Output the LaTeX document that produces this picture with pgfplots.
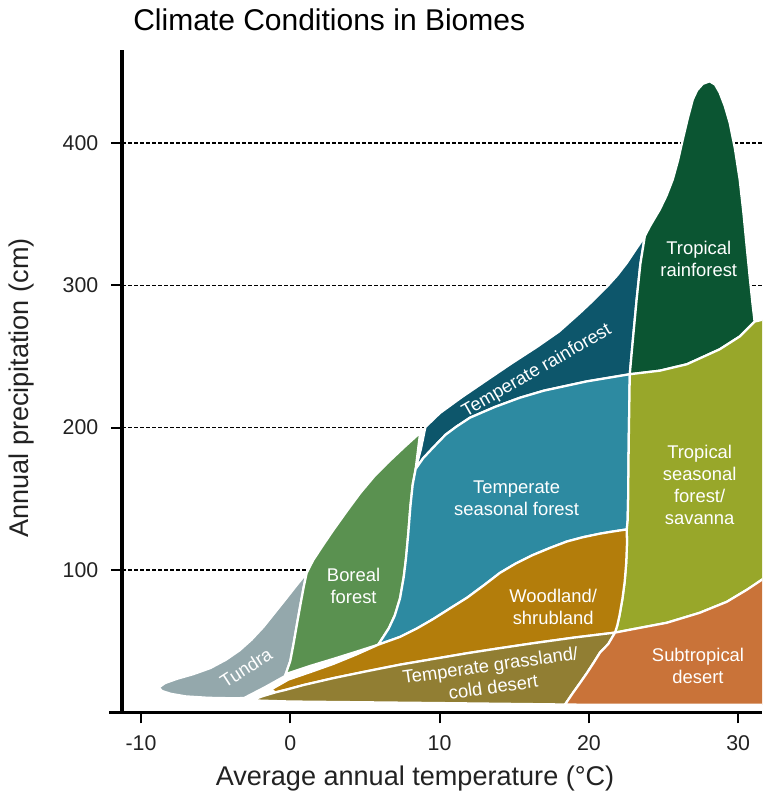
\documentclass[border=0pt]{standalone}
\usepackage{pgfplots}
\pgfplotsset{compat=1.18}
\usepackage{fontspec}
\setmainfont{Liberation Sans}
\usetikzlibrary{calc}

\definecolor{tundra}{HTML}{94A8AC}
\definecolor{boreal}{HTML}{5A9150}
\definecolor{temprain}{HTML}{0D566B}
\definecolor{tempseas}{HTML}{2D8AA1}
\definecolor{troprain}{HTML}{0B5532}
\definecolor{savanna}{HTML}{98A72A}
\definecolor{woodland}{HTML}{B37D0B}
\definecolor{grassland}{HTML}{917E33}
\definecolor{desert}{HTML}{C97339}
\definecolor{labelgray}{HTML}{222222}

\tikzset{
  region/.style={draw=white, line width=1.7pt, line join=round},
  biome/.style={font=\fontsize{13.8}{16.5}\selectfont, text=white, align=center},
}

\begin{document}
\begin{tikzpicture}
\begin{axis}[
  scale only axis, width=480pt, height=496.7pt,
  xmin=-11.27, xmax=31.6, ymin=0, ymax=465.3,
  axis x line=bottom, axis y line=left,
  axis line style={-, line width=2.6pt},
  xtick={-10,0,10,20,30}, xticklabels={-10,0,10,20,30},
  ytick={100,200,300,400}, yticklabels={100,200,300,400},
  tick align=outside, major tick length=8.25pt,
  tick style={line width=1.5pt, black},
  ymajorgrids, grid style={black, line width=1pt, dash pattern=on 2.8pt off 1.7pt},
  ticklabel style={font=\fontsize{16}{16}\selectfont, text=labelgray},
  xticklabel style={yshift=-6pt},
  yticklabel style={xshift=-6pt},
  clip mode=individual,
]
% Tundra
\addplot[region, fill=tundra] coordinates {
 (1.1,98) (0.4,89) (-0.2,81) (-1.0,70.5) (-1.8,60) (-2.6,51) (-3.4,43.5)
 (-4.3,37) (-5.35,31.1) (-6.5,26.8) (-7.6,23.5) (-8.4,20.5) (-8.8,17.5)
 (-8.6,15) (-8.0,13) (-7.0,11.2) (-5.5,10.2) (-4.0,9.9) (-3.1,10.0)
 (-1.7,17.6) (-0.35,25.5) (0.0,36) (0.2,47) (0.45,62) (0.67,75) (0.9,88)
} -- cycle;
% Boreal forest
\addplot[region, fill=boreal] coordinates {
 (-0.35,25.5) (0.0,36) (0.2,47) (0.45,62) (0.67,75) (0.9,88) (1.1,98)
 (1.54,107) (2.2,117.5) (2.88,128) (3.8,141.5) (4.68,154) (5.6,165.5)
 (6.49,175) (7.6,186) (8.70,196.5) (8.4,171)
 (8.2,160) (8.05,145) (7.9,125) (7.75,108) (7.6,95) (7.35,80) (7.0,68)
 (6.6,59) (6.2,52.5) (5.89,47.5) (4.4,42.5) (2.88,37.5) (1.3,32.5) (-0.13,27.5)
} -- cycle;
% Temperate rainforest
\addplot[region, fill=temprain] coordinates {
 (8.4,171) (8.75,185) (9.05,200.4) (10.03,210.3) (11.5,221.5) (13.18,233.5)
 (14.8,245) (16.52,256.7) (18.0,267.5) (19.40,280.6) (20.3,289.5)
 (21.20,298.9) (21.9,307) (22.54,315.7) (23.1,324.5) (23.75,334.6)
 (23.45,315) (23.2,290) (22.95,262) (22.74,237.5)
 (21.3,235) (19.87,232.5) (17.0,226) (15.38,221) (13.7,214.5) (12.04,207)
 (11.1,200.5) (10.4,195) (9.57,186) (8.9,178.5)
} -- cycle;
% Temperate seasonal forest
\addplot[region, fill=tempseas] coordinates {
 (8.4,171) (8.2,160) (8.05,145) (7.9,125) (7.75,108) (7.6,95) (7.35,80)
 (7.0,68) (6.6,59) (6.2,52.5) (5.89,47.5)
 (7.36,53) (8.5,59) (9.57,65.5) (10.7,73) (11.84,80.5) (13.0,89.5)
 (14.05,98) (15.1,104.5) (16.25,110.5) (17.4,115.5) (18.53,120) (19.6,123)
 (20.74,125.5) (21.6,127) (22.54,128.5)
 (22.6,135) (22.63,150) (22.65,170) (22.67,190) (22.7,210) (22.74,237.5)
 (21.3,235) (19.87,232.5) (17.0,226) (15.38,221) (13.7,214.5) (12.04,207)
 (11.1,200.5) (10.4,195) (9.57,186) (8.9,178.5)
} -- cycle;
% Tropical rainforest
\addplot[region, fill=troprain] coordinates {
 (22.74,237.5) (22.95,262) (23.2,290) (23.45,315) (23.75,334.6) (24.08,341.3)
 (24.4,347) (24.75,353.2) (25.2,363) (25.62,374.3) (25.98,388) (26.29,402.4)
 (26.62,417) (26.96,430.5) (27.25,437) (27.63,441.5) (28.09,443.3)
 (28.45,441) (28.76,435.3) (29.1,426) (29.43,414.2) (29.78,396) (30.10,374.3)
 (30.35,351) (30.57,327.2) (30.78,305) (30.97,286) (31.1,274.5)
 (30.10,264.0) (28.76,255.0) (26.56,244.5) (24.75,240.0)
} -- cycle;
% Tropical seasonal forest / savanna
\addplot[region, fill=savanna] coordinates {
 (22.74,237.5) (22.7,210) (22.67,190) (22.65,170) (22.63,150) (22.6,135)
 (22.54,128.5) (22.55,118) (22.5,105) (22.4,92) (22.25,80) (22.05,68)
 (21.9,61) (21.75,56)
 (23.5,59.5) (25.22,62.9) (27.42,69.9) (29.23,77.6) (30.57,86.0) (31.57,93.0)
 (32.5,100) (32.5,278) (31.1,274.5)
 (30.10,264.0) (28.76,255.0) (26.56,244.5) (24.75,240.0)
} -- cycle;
% Woodland / shrubland
\addplot[region, fill=woodland] coordinates {
 (-1.3,16.0) (-0.13,23.0) (1.4,28.5) (2.88,34) (4.4,40.5) (5.89,47.5)
 (7.36,53) (8.5,59) (9.57,65.5) (10.7,73) (11.84,80.5) (13.0,89.5)
 (14.05,98) (15.1,104.5) (16.25,110.5) (17.4,115.5) (18.53,120) (19.6,123)
 (20.74,125.5) (21.6,127) (22.54,128.5)
 (22.55,118) (22.5,105) (22.4,92) (22.25,80) (22.05,68) (21.9,61) (21.75,56)
 (19.0,52.5) (16.25,48.5) (14.0,45) (11.84,41.5) (9.6,37.5) (7.36,33.5)
 (5.1,28.8) (2.88,24) (0.9,19.2) (-0.3,15.8) (-1.0,14.0)
} -- cycle;
% Temperate grassland / cold desert
\addplot[region, fill=grassland] coordinates {
 (-2.54,8.8) (-1.8,11.5) (-1.0,14.0) (-0.3,15.8) (0.9,19.2) (2.88,24)
 (5.1,28.8) (7.36,33.5) (9.6,37.5) (11.84,41.5) (14.0,45) (16.25,48.5)
 (19.0,52.5) (21.75,56)
 (21.3,48) (20.74,41.9) (20.3,34.5) (19.87,27.6) (19.4,20.5) (18.93,13.6)
 (18.6,8.5) (18.4,5.5) (10,6.5) (0,7.6) (-2.0,8.2)
} -- cycle;
% Subtropical desert
\addplot[region, fill=desert] coordinates {
 (21.75,56) (23.5,59.5) (25.22,62.9) (27.42,69.9) (29.23,77.6) (30.57,86.0)
 (31.57,93.0) (32.5,100) (32.5,5.3) (20,5.3) (18.4,5.5)
 (18.6,8.5) (18.93,13.6) (19.4,20.5) (19.87,27.6) (20.3,34.5) (20.74,41.9)
 (21.3,48)
} -- cycle;

\node[biome] at (axis cs:27.36,318.5) {Tropical\\rainforest};
\node[biome, rotate=30] at (axis cs:16.52,239.8) {Temperate rainforest};
\node[biome] at (axis cs:15.16,150.3) {Temperate\\seasonal forest};
\node[biome] at (axis cs:27.42,159.5) {Tropical\\seasonal\\forest/\\savanna};
\node[biome] at (axis cs:17.61,74.2) {Woodland/\\shrubland};
\node[biome, rotate=8] at (axis cs:13.5,25.5) {Temperate grassland/\\cold desert};
\node[biome] at (axis cs:27.31,32.7) {Subtropical\\desert};
\node[biome] at (axis cs:4.24,89.0) {Boreal\\forest};
\node[biome, rotate=33] at (axis cs:-2.96,31.3) {Tundra};

\coordinate (bl) at (rel axis cs:0,0);
\coordinate (tr) at (rel axis cs:1,1);
\coordinate (tl) at (rel axis cs:0,1);
\end{axis}
\draw[line width=2.6pt] (bl) -- ++(-9.75pt,0);
\node[anchor=base west, inner sep=0pt, font=\fontsize{22.5}{22.5}\selectfont]
  at ($(tl)+(8.25pt,14.25pt)$) {Climate Conditions in Biomes};
\node[font=\fontsize{20.3}{20.3}\selectfont, text=labelgray]
  at ($(bl)+(219.75pt,-49.3pt)$) {Average annual temperature (°C)};
\node[rotate=90, font=\fontsize{20.3}{20.3}\selectfont, text=labelgray]
  at ($(bl)+(-75pt,243.2pt)$) {Annual precipitation (cm)};
\pgfresetboundingbox
\path[use as bounding box] ($(bl)+(-91.5pt,-65pt)$) rectangle ($(tr)+(0pt,37.5pt)$);
\end{tikzpicture}
\end{document}
